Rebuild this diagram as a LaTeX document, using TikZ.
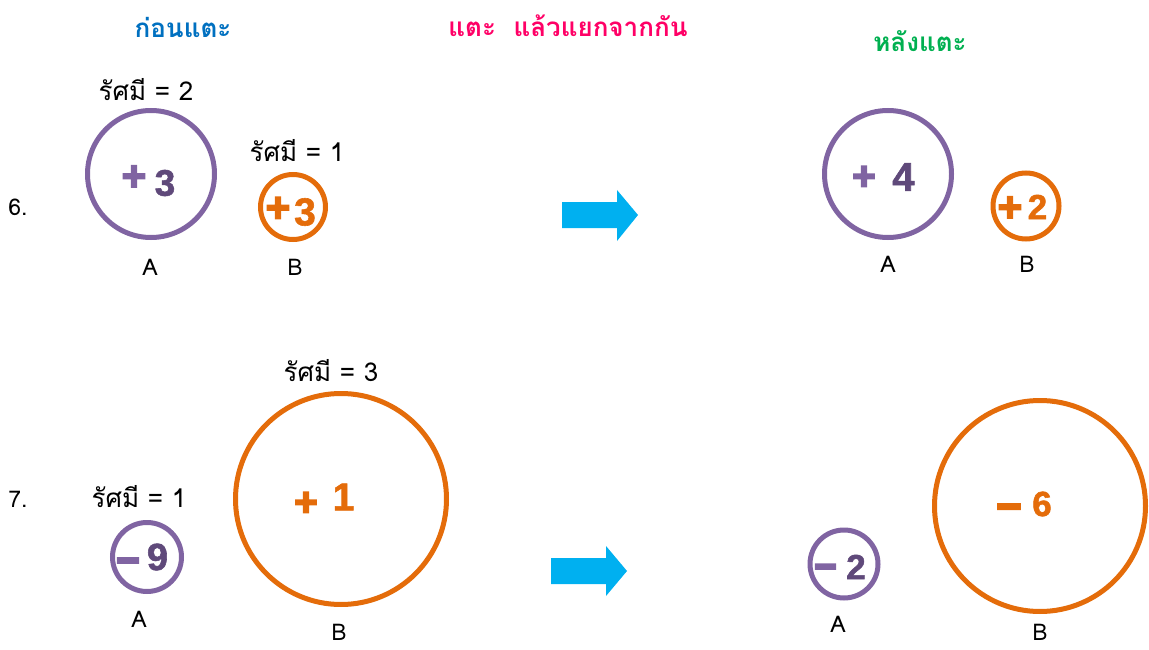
\documentclass[tikz,border=0pt]{standalone}
\usepackage{fontspec}
\newfontfamily\thai[Script=Thai]{Loma}
\newfontfamily\signfont{Liberation Sans}[BoldFeatures={FakeBold=4}]
\newfontfamily\minusfont{Liberation Sans}[BoldFeatures={FakeBold=6}]
\newfontfamily\digitfont{Liberation Sans}[BoldFeatures={FakeBold=1.5}]
\definecolor{ringpurple}{RGB}{128,100,162}
\definecolor{darkpurple}{RGB}{95,73,122}
\definecolor{ringorange}{RGB}{228,108,10}
\definecolor{headblue}{RGB}{0,112,192}
\definecolor{headpink}{RGB}{255,0,102}
\definecolor{headgreen}{RGB}{0,176,80}
\definecolor{arrowblue}{RGB}{0,176,240}
\tikzset{
  ring/.style={circle,draw,line width=5pt,inner sep=0pt,minimum size=#1},
  purplering/.style={ring=#1,draw=ringpurple},
  orangering/.style={ring=#1,draw=ringorange},
  heading/.style={font=\thai\bfseries\fontsize{26}{30}\selectfont},
  radiuslabel/.style={font=\thai\fontsize{26}{30}\selectfont,inner sep=0pt,anchor=base},
  letterlabel/.style={font=\thai\fontsize{23}{27}\selectfont,inner sep=0pt,anchor=base},
  num/.style={font=\digitfont\bfseries\fontsize{#1}{#1}\selectfont,inner sep=0pt},
  sign/.style={font=\signfont\bfseries\fontsize{#1}{#1}\selectfont,inner sep=0pt},
  minussign/.style={font=\minusfont\bfseries\fontsize{#1}{#1}\selectfont,inner sep=0pt},
}
\begin{document}
\begin{tikzpicture}[x=1pt,y=-1pt]
\useasboundingbox (0,0) rectangle (1149,650);
% headings
\node[heading,text=headblue] (h1) at (183,27) {ก่อนแตะ};
\node[heading,text=headpink] (h2) at (568,26) {แตะ\ \ แล้วแยกจากกัน};
\node[heading,text=headgreen] (h3) at (920,41) {หลังแตะ};
% ---------- problem 6 ----------
\node[letterlabel] (n6) at (18,215) {6.};
\node[radiuslabel] (r6a) at (146,101) {รัศมี = 2};
\node[purplering=127] (c6a) at (151,174) {};
\node[sign=42,text=ringpurple] (s6a) at (134,178) {+};
\node[num=37,text=darkpurple] (d6a) at (165,183) {3};
\node[letterlabel] (l6a) at (150,275) {A};
\node[radiuslabel] (r6b) at (297,161) {รัศมี = 1};
\node[orangering=65] (c6b) at (293,207) {};
\node[sign=42,text=ringorange] (s6b) at (278,209.5) {+};
\node[num=39,text=ringorange] (d6b) at (305,212) {3};
\node[letterlabel] (l6b) at (295,275) {B};
\fill[arrowblue] (562,202) -- (617,202) -- (617,190) -- (638,215) -- (617,241) -- (617,228) -- (562,228) -- cycle;
\node[purplering=127] (c6c) at (888,174) {};
\node[sign=40,text=ringpurple] (s6c) at (864,178) {+};
\node[num=40,text=darkpurple] (d6c) at (903.5,177) {4};
\node[letterlabel] (l6c) at (888,272) {A};
\node[orangering=66] (c6d) at (1026,206) {};
\node[sign=42,text=ringorange] (s6d) at (1010,209) {+};
\node[num=35,text=ringorange] (d6d) at (1037.5,207) {2};
\node[letterlabel] (l6d) at (1027,272) {B};
% ---------- problem 7 ----------
\node[letterlabel] (n7) at (18,507) {7.};
\node[radiuslabel] (r7b) at (331,381) {รัศมี = 3};
\node[orangering=211] (c7b) at (341,499) {};
\node[sign=40,text=ringorange] (s7b) at (306,504) {+};
\node[num=39,text=ringorange] (d7b) at (343.5,497) {1};
\node[letterlabel] (l7b) at (339,640) {B};
\node[radiuslabel] (r7a) at (139,507) {รัศมี = 1};
\node[purplering=69] (c7a) at (147,557) {};
\node[minussign=40,text=ringpurple] (s7a) at (128,566) {\textminus};
\node[num=38,text=darkpurple] (d7a) at (157.5,557) {9};
\node[letterlabel] (l7a) at (139,627) {A};
\fill[arrowblue] (551,558) -- (606,558) -- (606,546) -- (627,571) -- (606,596) -- (606,584) -- (551,584) -- cycle;
\node[purplering=68] (c7c) at (844,564) {};
\node[minussign=38,text=ringpurple] (s7c) at (825.5,572) {\textminus};
\node[num=35,text=darkpurple] (d7c) at (856,567) {2};
\node[letterlabel] (l7c) at (838,632) {A};
\node[orangering=211] (c7d) at (1040,506) {};
\node[minussign=42,text=ringorange] (s7d) at (1009,512.5) {\textminus};
\node[num=35,text=ringorange] (d7d) at (1042,504) {6};
\node[letterlabel] (l7d) at (1040,640) {B};
\end{tikzpicture}
\end{document}
